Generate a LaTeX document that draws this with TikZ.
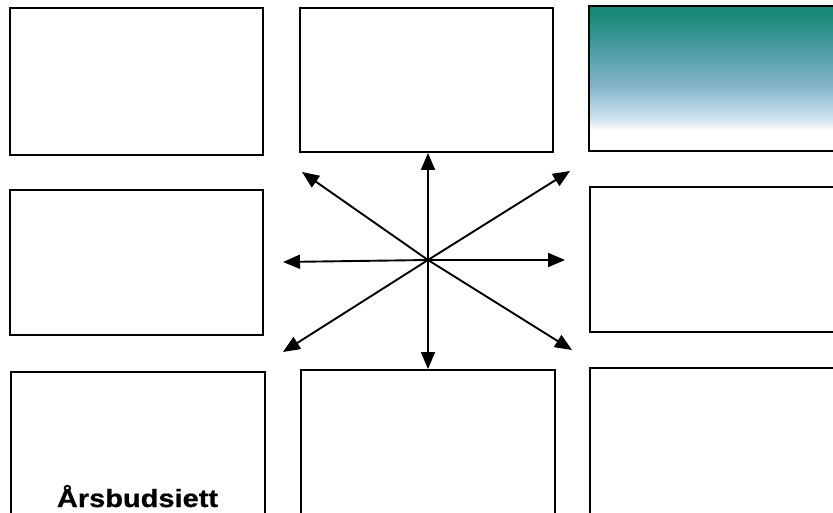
\documentclass[tikz,border=0pt]{standalone}
\usepackage{fontspec}
\usepackage{graphicx}
\setmainfont{Liberation Sans}
\newfontfamily\capfont{Liberation Sans}[BoldFeatures={FakeBold=0.7}]
\usetikzlibrary{arrows.meta}
\definecolor{tealtop}{RGB}{22,136,116}
\definecolor{tealmid}{RGB}{75,155,165}
\definecolor{bluelow}{RGB}{135,182,205}
\definecolor{paleblue}{RGB}{205,225,238}
% stops between 25bp (bottom of the box) and 75bp (top of the box)
\pgfdeclareverticalshading{boxshade}{100bp}{color(0bp)=(white); color(32bp)=(white); color(36.5bp)=(paleblue); color(47bp)=(bluelow); color(60bp)=(tealmid); color(73bp)=(tealtop); color(100bp)=(tealtop)}
\tikzset{
  panel/.style={draw=black, line width=1.9pt, fill=white, inner sep=0pt},
  shadedpanel/.style={draw=black, line width=1.9pt, shading=boxshade, inner sep=0pt},
  arr/.style={line width=1.9pt, -{Triangle[length=17pt,width=14pt]}},
  caption/.style={font=\capfont\bfseries\fontsize{25}{27}\selectfont, inner sep=0pt, anchor=base}
}
\begin{document}
\begin{tikzpicture}[x=1pt,y=-1pt]
\useasboundingbox (0,0) rectangle (833,513);
\fill[white] (0,0) rectangle (833,513);
% boxes
\node[panel, minimum width=253pt, minimum height=147pt] (b1) at (136.5,81.5) {};
\node[panel, minimum width=253pt, minimum height=144pt] (b2) at (426.5,80) {};
\node[shadedpanel, minimum width=261pt, minimum height=145pt] (b3) at (719.5,78.5) {};
\node[panel, minimum width=253pt, minimum height=145pt] (b4) at (136.5,262.5) {};
\node[panel, minimum width=260pt, minimum height=145pt] (b6) at (720,259.5) {};
\node[panel, minimum width=254pt, minimum height=158pt] (b7) at (138,451) {};
\node[panel, minimum width=254pt, minimum height=160pt] (b8) at (428,450) {};
\node[panel, minimum width=260pt, minimum height=162pt] (b9) at (720,449) {};
% text
\node[caption] (t) at (137.5,507) {\scalebox{1.16}[1]{Årsbudsiett}};
% arrows
\coordinate (c) at (428,260);
\coordinate (pl) at (283,262);
\coordinate (pr) at (565,260);
\coordinate (pul) at (302,172);
\coordinate (pur) at (570,171);
\coordinate (pll) at (283,352);
\coordinate (plr) at (572,350);
\draw[arr] (c) -- (c |- b2.south);
\draw[arr] (c) -- (c |- b8.north);
\draw[arr] (c) -- (pl);
\draw[arr] (c) -- (pr);
\draw[arr] (c) -- (pul);
\draw[arr] (c) -- (pur);
\draw[arr] (c) -- (pll);
\draw[arr] (c) -- (plr);
\end{tikzpicture}
\end{document}
